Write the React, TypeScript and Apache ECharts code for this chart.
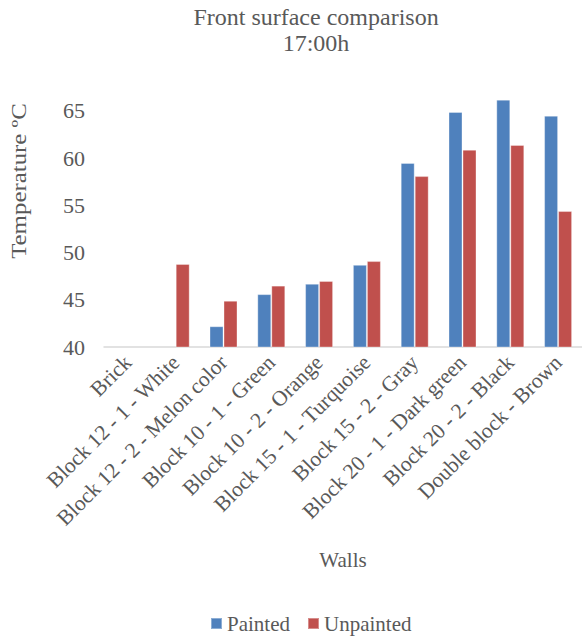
import React, { useEffect, useRef } from "react";
import * as echarts from "echarts";

const walls = [
  "Brick",
  "Block 12 - 1 - White",
  "Block 12 - 2 - Melon color",
  "Block 10 - 1 - Green",
  "Block 10 - 2 - Orange",
  "Block 15 - 1 - Turquoise",
  "Block 15 - 2 - Gray",
  "Block 20 - 1 - Dark green",
  "Block 20 - 2 - Black",
  "Double block - Brown",
];

const painted = [null, null, 42.2, 45.6, 46.7, 48.7, 59.5, 64.9, 66.2, 64.5];
const unpainted = [null, 48.8, 44.9, 46.5, 47.0, 49.1, 58.1, 60.9, 61.4, 54.4];

const FONT = "Liberation Serif";
const TEXT = "#595959";

export default function App() {
  const ref = useRef<HTMLDivElement>(null);

  useEffect(() => {
    document.body.style.margin = "0";
    const chart = echarts.init(ref.current!, undefined, { renderer: "svg" });
    chart.setOption({
      animation: false,
      backgroundColor: "#ffffff",
      textStyle: { fontFamily: FONT, color: TEXT },
      title: {
        text: "Front surface comparison\n17:00h",
        left: 311,
        top: -1,
        textAlign: "center",
        textStyle: {
          fontFamily: FONT,
          fontWeight: "normal",
          fontSize: 24,
          lineHeight: 26,
          color: TEXT,
        },
      },
      legend: {
        top: 608,
        left: 205,
        itemWidth: 11,
        itemHeight: 11,
        itemGap: 17,
        icon: "rect",
        textStyle: { fontFamily: FONT, fontSize: 21, color: TEXT },
        data: ["Painted", "Unpainted"],
      },
      graphic: [
        {
          // vertical axis title, slightly widened along its reading direction
          type: "text",
          x: 19,
          y: 181,
          rotation: Math.PI / 2,
          scaleX: 1.13,
          style: {
            text: "Temperature ºC",
            font: `22px ${FONT}`,
            fill: TEXT,
            align: "center",
            verticalAlign: "middle",
          },
        },
      ],
      grid: { left: 104, width: 483, top: 96.8, bottom: 293 },
      xAxis: {
        type: "category",
        data: walls,
        name: "Walls",
        nameLocation: "middle",
        nameGap: 202,
        nameTextStyle: { fontFamily: FONT, fontSize: 21, color: TEXT },
        axisLine: { lineStyle: { color: "#d9d9d9", width: 1.5 } },
        axisTick: { show: false },
        axisLabel: {
          rotate: 45,
          interval: 0,
          margin: 12,
          fontFamily: FONT,
          fontSize: 21.5,
          color: TEXT,
        },
      },
      yAxis: {
        type: "value",
        min: 40,
        max: 66.5,
        interval: 5,
        splitLine: { show: false },
        axisLine: { show: false },
        axisTick: { show: false },
        axisLabel: {
          showMaxLabel: false,
          margin: 19,
          fontFamily: FONT,
          fontSize: 22,
          color: TEXT,
        },
      },
      series: [
        {
          name: "Painted",
          type: "bar",
          data: painted,
          barWidth: 14,
          barGap: "0%",
          itemStyle: {
            color: "#4f81bd",
            borderColor: "rgba(255,255,255,0.35)",
            borderWidth: 1,
          },
        },
        {
          name: "Unpainted",
          type: "bar",
          data: unpainted,
          barWidth: 14,
          barGap: "0%",
          itemStyle: {
            color: "#c0504d",
            borderColor: "rgba(255,255,255,0.35)",
            borderWidth: 1,
          },
        },
      ],
    });
    return () => chart.dispose();
  }, []);

  return (
    <div
      ref={ref}
      style={{ position: "absolute", left: 0, top: 0, width: 582, height: 640 }}
    />
  );
}
